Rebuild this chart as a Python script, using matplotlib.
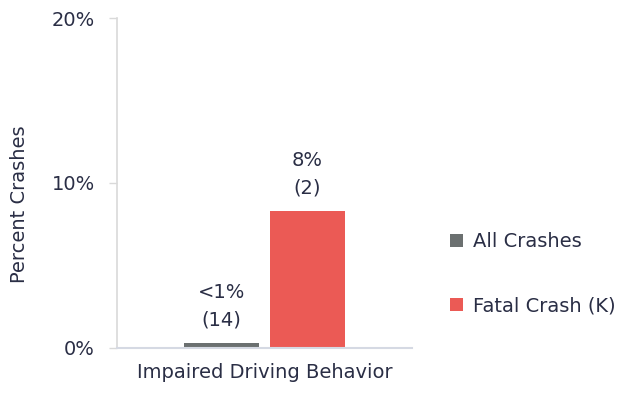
import matplotlib
matplotlib.use("Agg")
import matplotlib.pyplot as plt
from matplotlib.patches import Patch

plt.rcParams['font.family'] = ['DejaVu Sans']

category = ["Impaired Driving Behavior"]
series_names = ["All Crashes", "Fatal Crash (K)"]
values = [0.3, 8.3]
labels = ["<1%\n(14)", "8%\n(2)"]
colors = ["#6b7070", "#eb5a55"]
yticks = [0, 10, 20]
ytick_labels = ["0%", "10%", "20%"]

text_color = "#2a2e45"
fs = 14

fig = plt.figure(figsize=(6.21, 3.94), dpi=100)
ax = fig.add_axes([0.1884, 0.1168, 0.475, 0.8375])

width = 0.254
offsets = [-0.146, 0.146]
for v, lab, c, off in zip(values, labels, colors, offsets):
    ax.bar(off, v, width=width, color=c, zorder=2)
    ax.text(off, v + 0.85, lab, ha="center", va="bottom", fontsize=fs,
            color=text_color, linespacing=1.55)

ax.set_xlim(-0.5, 0.5)
ax.set_ylim(0, 20)
ax.set_yticks(yticks)
ax.set_yticklabels(ytick_labels, fontsize=fs, color=text_color)
ax.set_xticks([0])
ax.set_xticklabels(category, fontsize=fs, color=text_color)
ax.tick_params(axis="x", length=0, pad=11)
ax.tick_params(axis="y", length=6, color="#d9d9d9", width=1, pad=10)
ax.set_ylabel("Percent Crashes", fontsize=fs, color=text_color)
ax.yaxis.set_label_coords(-0.300, 0.436)

for s in ["top", "right"]:
    ax.spines[s].set_visible(False)
ax.spines["left"].set_color("#d9d9d9")
ax.spines["left"].set_linewidth(1.2)
ax.spines["bottom"].set_color("#d5d9e3")
ax.spines["bottom"].set_linewidth(1.5)
ax.spines["bottom"].set_zorder(3)

handles = [Patch(facecolor=c, edgecolor="none") for c in colors]
fig.legend(handles, series_names, loc="center left", bbox_to_anchor=(0.697, 0.305),
           frameon=False, fontsize=fs, labelcolor=text_color,
           handlelength=0.65, handleheight=0.65, handletextpad=0.5,
           labelspacing=2.35)

fig.savefig("out.png", dpi=100)
